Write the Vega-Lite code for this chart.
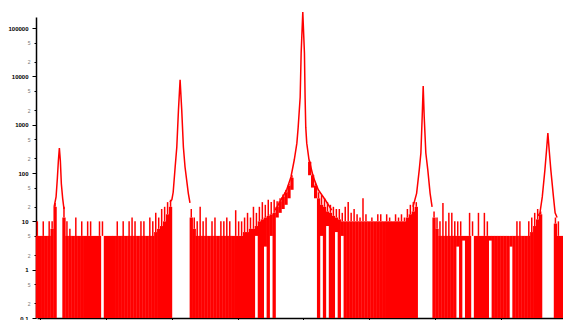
{
  "$schema": "https://vega.github.io/schema/vega-lite/v6.json",
  "width": 526,
  "height": 301,
  "autosize": "none",
  "padding": {"left": 37, "top": 17, "right": 0, "bottom": 2},
  "background": "#ffffff",
  "config": {"view": {"stroke": null}},
  "datasets": {
    "envelope": [
      {"channel": -9, "lo": 0.1, "mid": 5, "hi": 10}, {"channel": 0, "lo": 0.1, "mid": 5, "hi": 5}, {"channel": 9, "lo": 0.1, "mid": 5, "hi": 10},
      {"channel": 18, "lo": 0.1, "mid": 5, "hi": 5}, {"channel": 27, "lo": 0.1, "mid": 5, "hi": 10}, {"channel": 36, "lo": 0.1, "mid": 7, "hi": 10},
      {"channel": 45, "lo": 0.1, "mid": 20, "hi": 24}, {"channel": 72, "lo": 0.1, "mid": 12, "hi": 20}, {"channel": 81, "lo": 0.1, "mid": 5, "hi": 10},
      {"channel": 90, "lo": 0.1, "mid": 5, "hi": 7}, {"channel": 99, "lo": 0.1, "mid": 5, "hi": 5}, {"channel": 108, "lo": 0.1, "mid": 5, "hi": 12},
      {"channel": 117, "lo": 0.1, "mid": 5, "hi": 5}, {"channel": 126, "lo": 0.1, "mid": 5, "hi": 10}, {"channel": 135, "lo": 0.1, "mid": 5, "hi": 5},
      {"channel": 144, "lo": 0.1, "mid": 5, "hi": 10}, {"channel": 153, "lo": 0.1, "mid": 5, "hi": 10}, {"channel": 162, "lo": 0.1, "mid": 5, "hi": 5},
      {"channel": 171, "lo": 0.1, "mid": 5, "hi": 5}, {"channel": 180, "lo": 0.1, "mid": 5, "hi": 10}, {"channel": 189, "lo": 5, "mid": 5, "hi": 10},
      {"channel": 198, "lo": 0.1, "mid": 5, "hi": 5}, {"channel": 207, "lo": 0.1, "mid": 5, "hi": 5}, {"channel": 216, "lo": 0.1, "mid": 5, "hi": 5},
      {"channel": 225, "lo": 0.1, "mid": 5, "hi": 5}, {"channel": 234, "lo": 0.1, "mid": 5, "hi": 10}, {"channel": 243, "lo": 0.1, "mid": 5, "hi": 5},
      {"channel": 252, "lo": 0.1, "mid": 5, "hi": 10}, {"channel": 261, "lo": 0.1, "mid": 5, "hi": 5}, {"channel": 270, "lo": 0.1, "mid": 5, "hi": 10},
      {"channel": 279, "lo": 0.1, "mid": 5, "hi": 12}, {"channel": 288, "lo": 0.1, "mid": 5, "hi": 10}, {"channel": 297, "lo": 0.1, "mid": 5, "hi": 5},
      {"channel": 306, "lo": 0.1, "mid": 5, "hi": 10}, {"channel": 315, "lo": 0.1, "mid": 5, "hi": 10}, {"channel": 324, "lo": 0.1, "mid": 5, "hi": 5},
      {"channel": 333, "lo": 0.1, "mid": 5, "hi": 12}, {"channel": 342, "lo": 0.1, "mid": 5, "hi": 10}, {"channel": 351, "lo": 0.1, "mid": 6, "hi": 15},
      {"channel": 360, "lo": 0.1, "mid": 7, "hi": 12}, {"channel": 369, "lo": 0.1, "mid": 8, "hi": 18}, {"channel": 378, "lo": 0.1, "mid": 10, "hi": 20},
      {"channel": 387, "lo": 0.1, "mid": 14, "hi": 25}, {"channel": 396, "lo": 0.1, "mid": 20, "hi": 28},
      {"channel": 459, "lo": 0.1, "mid": 12, "hi": 18}, {"channel": 468, "lo": 0.1, "mid": 7, "hi": 12}, {"channel": 477, "lo": 0.1, "mid": 5, "hi": 10},
      {"channel": 486, "lo": 0.1, "mid": 5, "hi": 20}, {"channel": 495, "lo": 0.1, "mid": 5, "hi": 10}, {"channel": 504, "lo": 0.1, "mid": 5, "hi": 12},
      {"channel": 513, "lo": 0.1, "mid": 5, "hi": 5}, {"channel": 522, "lo": 0.1, "mid": 5, "hi": 10}, {"channel": 531, "lo": 0.1, "mid": 5, "hi": 12},
      {"channel": 540, "lo": 0.1, "mid": 5, "hi": 5}, {"channel": 549, "lo": 0.1, "mid": 5, "hi": 10}, {"channel": 558, "lo": 0.1, "mid": 5, "hi": 10},
      {"channel": 567, "lo": 0.1, "mid": 5, "hi": 12}, {"channel": 576, "lo": 0.1, "mid": 5, "hi": 10}, {"channel": 585, "lo": 0.1, "mid": 5, "hi": 5},
      {"channel": 594, "lo": 0.1, "mid": 5, "hi": 17}, {"channel": 603, "lo": 0.1, "mid": 5, "hi": 10}, {"channel": 612, "lo": 0.1, "mid": 5, "hi": 10},
      {"channel": 621, "lo": 0.1, "mid": 6, "hi": 12}, {"channel": 630, "lo": 0.1, "mid": 6, "hi": 15}, {"channel": 639, "lo": 0.1, "mid": 7, "hi": 12},
      {"channel": 648, "lo": 0.1, "mid": 7, "hi": 20}, {"channel": 657, "lo": 5, "mid": 8, "hi": 15}, {"channel": 666, "lo": 0.1, "mid": 10, "hi": 20},
      {"channel": 675, "lo": 0.1, "mid": 11, "hi": 25}, {"channel": 684, "lo": 3, "mid": 12, "hi": 22}, {"channel": 693, "lo": 0.1, "mid": 13, "hi": 28},
      {"channel": 702, "lo": 5, "mid": 14, "hi": 25}, {"channel": 711, "lo": 0.1, "mid": 15, "hi": 28},
      {"channel": 720, "lo": 12, "mid": 20, "hi": 26}, {"channel": 729, "lo": 15, "mid": 26, "hi": 30}, {"channel": 738, "lo": 18, "mid": 32, "hi": 36},
      {"channel": 747, "lo": 22, "mid": 40, "hi": 45}, {"channel": 756, "lo": 30, "mid": 55, "hi": 60}, {"channel": 765, "lo": 45, "mid": 80, "hi": 90},
      {"channel": 819, "lo": 90, "mid": 170, "hi": 180}, {"channel": 828, "lo": 50, "mid": 90, "hi": 95}, {"channel": 837, "lo": 30, "mid": 55, "hi": 60},
      {"channel": 846, "lo": 0.1, "mid": 30, "hi": 40}, {"channel": 855, "lo": 5, "mid": 22, "hi": 35}, {"channel": 864, "lo": 0.1, "mid": 20, "hi": 30},
      {"channel": 873, "lo": 8, "mid": 16, "hi": 25}, {"channel": 882, "lo": 0.1, "mid": 15, "hi": 22}, {"channel": 891, "lo": 0.1, "mid": 13, "hi": 20},
      {"channel": 900, "lo": 6, "mid": 12, "hi": 18}, {"channel": 909, "lo": 0.1, "mid": 11, "hi": 18}, {"channel": 918, "lo": 5, "mid": 10, "hi": 15},
      {"channel": 927, "lo": 0.1, "mid": 10, "hi": 20}, {"channel": 936, "lo": 0.1, "mid": 10, "hi": 25}, {"channel": 945, "lo": 0.1, "mid": 10, "hi": 15},
      {"channel": 954, "lo": 0.1, "mid": 10, "hi": 18}, {"channel": 963, "lo": 0.1, "mid": 10, "hi": 14}, {"channel": 972, "lo": 0.1, "mid": 10, "hi": 12},
      {"channel": 981, "lo": 0.1, "mid": 10, "hi": 30}, {"channel": 990, "lo": 0.1, "mid": 10, "hi": 14}, {"channel": 999, "lo": 0.1, "mid": 10, "hi": 10},
      {"channel": 1008, "lo": 0.1, "mid": 10, "hi": 12}, {"channel": 1017, "lo": 0.1, "mid": 10, "hi": 10}, {"channel": 1026, "lo": 0.1, "mid": 10, "hi": 14},
      {"channel": 1035, "lo": 0.1, "mid": 10, "hi": 14}, {"channel": 1044, "lo": 0.1, "mid": 10, "hi": 10}, {"channel": 1053, "lo": 0.1, "mid": 10, "hi": 14},
      {"channel": 1062, "lo": 0.1, "mid": 10, "hi": 12}, {"channel": 1071, "lo": 0.1, "mid": 10, "hi": 10}, {"channel": 1080, "lo": 0.1, "mid": 10, "hi": 14},
      {"channel": 1089, "lo": 0.1, "mid": 10, "hi": 12}, {"channel": 1098, "lo": 0.1, "mid": 10, "hi": 14}, {"channel": 1107, "lo": 0.1, "mid": 10, "hi": 12},
      {"channel": 1116, "lo": 0.1, "mid": 12, "hi": 18}, {"channel": 1125, "lo": 0.1, "mid": 14, "hi": 22}, {"channel": 1134, "lo": 0.1, "mid": 16, "hi": 25},
      {"channel": 1143, "lo": 0.1, "mid": 20, "hi": 25},
      {"channel": 1197, "lo": 0.1, "mid": 12, "hi": 16}, {"channel": 1206, "lo": 0.1, "mid": 7, "hi": 12}, {"channel": 1215, "lo": 0.1, "mid": 5, "hi": 10},
      {"channel": 1224, "lo": 0.1, "mid": 5, "hi": 24}, {"channel": 1233, "lo": 0.1, "mid": 5, "hi": 10}, {"channel": 1242, "lo": 0.1, "mid": 5, "hi": 15},
      {"channel": 1251, "lo": 0.1, "mid": 5, "hi": 15}, {"channel": 1260, "lo": 0.1, "mid": 5, "hi": 10}, {"channel": 1269, "lo": 3, "mid": 5, "hi": 10},
      {"channel": 1278, "lo": 0.1, "mid": 5, "hi": 10}, {"channel": 1287, "lo": 4, "mid": 5, "hi": 5}, {"channel": 1296, "lo": 0.1, "mid": 5, "hi": 5},
      {"channel": 1305, "lo": 0.1, "mid": 5, "hi": 15}, {"channel": 1314, "lo": 5, "mid": 5, "hi": 10}, {"channel": 1323, "lo": 0.1, "mid": 5, "hi": 5},
      {"channel": 1332, "lo": 0.1, "mid": 5, "hi": 15}, {"channel": 1341, "lo": 0.1, "mid": 5, "hi": 5}, {"channel": 1350, "lo": 0.1, "mid": 5, "hi": 15},
      {"channel": 1359, "lo": 0.1, "mid": 5, "hi": 10}, {"channel": 1368, "lo": 4, "mid": 5, "hi": 5}, {"channel": 1377, "lo": 0.1, "mid": 5, "hi": 5},
      {"channel": 1386, "lo": 0.1, "mid": 5, "hi": 5}, {"channel": 1395, "lo": 0.1, "mid": 5, "hi": 5}, {"channel": 1404, "lo": 0.1, "mid": 5, "hi": 5},
      {"channel": 1413, "lo": 0.1, "mid": 5, "hi": 5}, {"channel": 1422, "lo": 0.1, "mid": 5, "hi": 5}, {"channel": 1431, "lo": 3, "mid": 5, "hi": 5},
      {"channel": 1440, "lo": 0.1, "mid": 5, "hi": 5}, {"channel": 1449, "lo": 0.1, "mid": 5, "hi": 10}, {"channel": 1458, "lo": 0.1, "mid": 5, "hi": 10},
      {"channel": 1467, "lo": 0.1, "mid": 5, "hi": 5}, {"channel": 1476, "lo": 0.1, "mid": 5, "hi": 5}, {"channel": 1485, "lo": 0.1, "mid": 5, "hi": 10},
      {"channel": 1494, "lo": 0.1, "mid": 6, "hi": 12}, {"channel": 1503, "lo": 0.1, "mid": 8, "hi": 15}, {"channel": 1512, "lo": 0.1, "mid": 11, "hi": 18},
      {"channel": 1521, "lo": 0.1, "mid": 14, "hi": 16},
      {"channel": 1566, "lo": 0.1, "mid": 9, "hi": 12}, {"channel": 1575, "lo": 0.1, "mid": 5, "hi": 10}, {"channel": 1584, "lo": 0.1, "mid": 5, "hi": 5}
    ],
    "profile": [
      {"peak": "p1", "channel": 42, "count": 20}, {"peak": "p1", "channel": 48, "count": 32}, {"peak": "p1", "channel": 52, "count": 80},
      {"peak": "p1", "channel": 55, "count": 180}, {"peak": "p1", "channel": 58, "count": 330}, {"peak": "p1", "channel": 61, "count": 180},
      {"peak": "p1", "channel": 64, "count": 60}, {"peak": "p1", "channel": 68, "count": 30}, {"peak": "p1", "channel": 72, "count": 18},
      {"peak": "p2", "channel": 394, "count": 25}, {"peak": "p2", "channel": 400, "count": 28}, {"peak": "p2", "channel": 404, "count": 40},
      {"peak": "p2", "channel": 410, "count": 133}, {"peak": "p2", "channel": 415, "count": 345}, {"peak": "p2", "channel": 420, "count": 2000},
      {"peak": "p2", "channel": 425, "count": 8500}, {"peak": "p2", "channel": 430, "count": 2000}, {"peak": "p2", "channel": 435, "count": 345},
      {"peak": "p2", "channel": 440, "count": 133}, {"peak": "p2", "channel": 450, "count": 38}, {"peak": "p2", "channel": 455, "count": 24},
      {"peak": "p3", "channel": 714, "count": 17}, {"peak": "p3", "channel": 732, "count": 28}, {"peak": "p3", "channel": 749, "count": 45},
      {"peak": "p3", "channel": 762, "count": 83}, {"peak": "p3", "channel": 772, "count": 186}, {"peak": "p3", "channel": 780, "count": 415},
      {"peak": "p3", "channel": 784, "count": 890}, {"peak": "p3", "channel": 790, "count": 3700}, {"peak": "p3", "channel": 793, "count": 30000},
      {"peak": "p3", "channel": 798, "count": 215000}, {"peak": "p3", "channel": 803, "count": 30000}, {"peak": "p3", "channel": 805, "count": 3700},
      {"peak": "p3", "channel": 807, "count": 890}, {"peak": "p3", "channel": 810, "count": 415}, {"peak": "p3", "channel": 817, "count": 186},
      {"peak": "p3", "channel": 830, "count": 83}, {"peak": "p3", "channel": 845, "count": 45}, {"peak": "p3", "channel": 866, "count": 28},
      {"peak": "p3", "channel": 886, "count": 17},
      {"peak": "p4", "channel": 1133, "count": 20}, {"peak": "p4", "channel": 1144, "count": 38}, {"peak": "p4", "channel": 1152, "count": 116},
      {"peak": "p4", "channel": 1157, "count": 260}, {"peak": "p4", "channel": 1161, "count": 1500}, {"peak": "p4", "channel": 1164, "count": 6300},
      {"peak": "p4", "channel": 1167, "count": 1500}, {"peak": "p4", "channel": 1172, "count": 260}, {"peak": "p4", "channel": 1178, "count": 116},
      {"peak": "p4", "channel": 1185, "count": 38}, {"peak": "p4", "channel": 1191, "count": 20},
      {"peak": "p5", "channel": 1513, "count": 13}, {"peak": "p5", "channel": 1519, "count": 15}, {"peak": "p5", "channel": 1526, "count": 32},
      {"peak": "p5", "channel": 1534, "count": 116}, {"peak": "p5", "channel": 1539, "count": 300}, {"peak": "p5", "channel": 1543, "count": 670},
      {"peak": "p5", "channel": 1547, "count": 300}, {"peak": "p5", "channel": 1552, "count": 116}, {"peak": "p5", "channel": 1560, "count": 32},
      {"peak": "p5", "channel": 1565, "count": 15}, {"peak": "p5", "channel": 1571, "count": 12}
    ]
  },
  "layer": [
    {
      "data": {"name": "envelope"},
      "mark": {"type": "rule", "color": "#ff0000", "strokeWidth": 3.3},
      "encoding": {
        "x": {
          "field": "channel", "type": "quantitative",
          "scale": {"domain": [-10, 1589], "nice": false, "zero": false},
          "axis": {
            "values": [0, 100, 200, 300, 400, 500, 600, 700, 800, 900, 1000, 1100, 1200, 1300, 1400, 1500],
            "labels": false, "title": null, "grid": false, "tickSize": 4,
            "domainColor": "#000000", "tickColor": "#000000", "domainWidth": 1.5, "tickWidth": 1
          }
        },
        "y": {
          "field": "lo", "type": "quantitative",
          "scale": {"type": "log", "domain": [0.1, 169400], "nice": false},
          "axis": {
            "values": [0.1, 0.2, 0.5, 1, 2, 5, 10, 20, 50, 100, 200, 500, 1000, 2000, 5000, 10000, 20000, 50000, 100000],
            "format": "~g",
            "title": null, "grid": false, "offset": 1,
            "domainColor": "#000000", "domainWidth": 1.5, "tickColor": "#000000",
            "labelFont": "Liberation Sans",
            "labelPadding": 4,
            "labelExpr": "abs(log(datum.value)/LN10 - round(log(datum.value)/LN10)) < 0.000001 ? datum.label : replace(datum.label, regexp('[0.]', 'g'), '')",
            "tickSize": {"condition": {"test": "abs(log(datum.value)/LN10 - round(log(datum.value)/LN10)) < 0.000001", "value": 4}, "value": 2},
            "labelFontSize": {"condition": {"test": "abs(log(datum.value)/LN10 - round(log(datum.value)/LN10)) < 0.000001", "value": 6}, "value": 5},
            "labelFontWeight": {"condition": {"test": "abs(log(datum.value)/LN10 - round(log(datum.value)/LN10)) < 0.000001", "value": "bold"}, "value": "normal"},
            "labelColor": {"condition": {"test": "abs(log(datum.value)/LN10 - round(log(datum.value)/LN10)) < 0.000001", "value": "#000000"}, "value": "#777777"}
          }
        },
        "y2": {"field": "mid"}
      }
    },
    {
      "data": {"name": "envelope"},
      "mark": {"type": "rule", "color": "#ff0000", "strokeWidth": 1.5},
      "encoding": {
        "x": {"field": "channel", "type": "quantitative"},
        "y": {"field": "mid", "type": "quantitative"},
        "y2": {"field": "hi"}
      }
    },
    {
      "data": {"name": "profile"},
      "mark": {"type": "line", "color": "#ff0000", "strokeWidth": 1.5},
      "encoding": {
        "x": {"field": "channel", "type": "quantitative"},
        "y": {"field": "count", "type": "quantitative"},
        "detail": {"field": "peak"}
      }
    }
  ]
}
